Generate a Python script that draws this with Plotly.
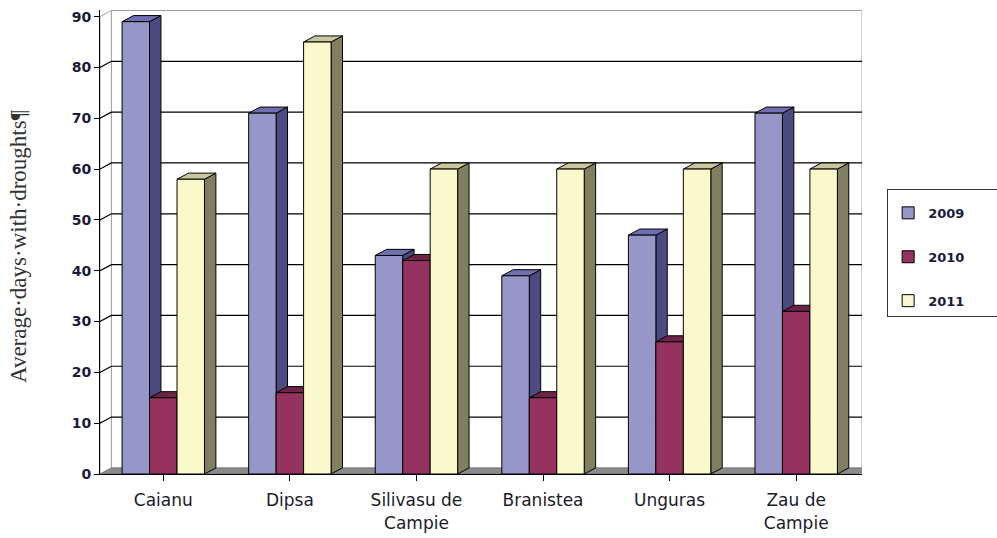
import plotly.graph_objects as go

categories = ["Caianu", "Dipsa", "Silivasu de<br>Campie", "Branistea", "Unguras", "Zau de<br>Campie"]
years = ["2009", "2010", "2011"]
v2009 = [89, 71, 43, 39, 47, 71]
v2010 = [15, 16, 42, 15, 26, 32]
v2011 = [58, 85, 60, 60, 60, 60]
y_ticks = [0, 10, 20, 30, 40, 50, 60, 70, 80, 90]

series = [v2009, v2010, v2011]
front = ["#9696C8", "#95325F", "#FBF9CC"]
side = ["#4B4B82", "#4F1A35", "#808060"]
top = ["#6F6FB2", "#6E2448", "#C9C7A0"]

xs = list(range(len(categories)))
w = 0.217
dx, dy = 0.09, 1.2
xmin, xmax = -0.5, 5.52

fig = go.Figure()
shapes = []
# back wall and left wall
shapes.append(dict(type="path", xref="x", yref="y", layer="below",
                   path=f"M{xmin+dx},{dy} L{xmax},{dy} L{xmax},{90+dy} L{xmin+dx},{90+dy} Z",
                   line=dict(color="#A0A0A0", width=1), fillcolor="white"))
shapes.append(dict(type="path", xref="x", yref="y", layer="below",
                   path=f"M{xmin},0 L{xmin+dx},{dy} L{xmin+dx},{90+dy} L{xmin},90 Z",
                   line=dict(color="#A0A0A0", width=1), fillcolor="white"))
for v in y_ticks[1:-1]:
    shapes.append(dict(type="path", xref="x", yref="y", layer="below",
                       path=f"M{xmin},{v} L{xmin+dx},{v+dy} L{xmax},{v+dy}",
                       line=dict(color="black", width=1.2)))
# floor
shapes.append(dict(type="path", xref="x", yref="y", layer="below",
                   path=f"M{xmin},0 L{5.5},0 L{5.5+dx},{dy} L{xmin+dx},{dy} Z",
                   line=dict(color="#606060", width=0.5), fillcolor="#8A8A8A"))

pad = "\u00a0" * 7
for i, (yr, vals) in enumerate(zip(years, series)):
    off = -1.5 * w + i * w
    fig.add_trace(go.Bar(
        x=xs, y=vals, width=w, offset=off, name=yr + pad,
        marker=dict(color=front[i], line=dict(color="black", width=1)),
        legendgroup=yr,
    ))
for c in xs:
    for i, vals in enumerate(series):
        v = vals[c]
        x0 = c - 1.5 * w + i * w
        x1 = x0 + w
        shapes.append(dict(type="path", xref="x", yref="y", layer="below",
                           path=f"M{x1},0 L{x1+dx},{dy} L{x1+dx},{v+dy} L{x1},{v} Z",
                           line=dict(color="black", width=1), fillcolor=side[i]))
        shapes.append(dict(type="path", xref="x", yref="y", layer="below",
                           path=f"M{x0},{v} L{x0+dx},{v+dy} L{x1+dx},{v+dy} L{x1},{v} Z",
                           line=dict(color="black", width=1), fillcolor=top[i]))

fig.update_layout(
    width=997, height=538,
    margin=dict(l=100, r=135, t=10, b=64, autoexpand=False),
    paper_bgcolor="white", plot_bgcolor="white",
    barmode="overlay",
    shapes=shapes,
    showlegend=True,
    legend=dict(x=1.033, y=0.614, xanchor="left", yanchor="top",
                bordercolor="#333333", borderwidth=1, bgcolor="white",
                title=dict(text=" ", font=dict(size=6)),
                font=dict(family="DejaVu Sans", size=13, color="#1A1A3A", weight="bold"),
                traceorder="grouped", tracegroupgap=24,
                itemwidth=30),
    xaxis=dict(range=[xmin, xmax], tickvals=xs, ticktext=categories, automargin=False,
               showgrid=False, zeroline=False, showline=True, linecolor="black", linewidth=1,
               ticks="outside", ticklen=6, tickcolor="black",
               tickson="boundaries", ticklabelstandoff=5,
               tickfont=dict(family="DejaVu Sans", size=17, color="#1A1A2A")),
    yaxis=dict(range=[0, 91.3], tickvals=y_ticks, showgrid=False, zeroline=False, automargin=False,
               showline=True, linecolor="black", linewidth=1,
               ticks="outside", ticklen=5, tickcolor="black",
               tickfont=dict(family="DejaVu Sans", size=14, color="#1A1A3A", weight="bold")),
    annotations=[dict(text="Average·days·with·droughts¶", xref="paper", yref="paper",
                      x=(19 - 100) / 762, y=(474 - 246) / 464, xanchor="center", yanchor="middle",
                      textangle=-90, showarrow=False,
                      font=dict(family="Liberation Serif", size=23, color="#333333"))],
)

fig.write_html("out.html")
